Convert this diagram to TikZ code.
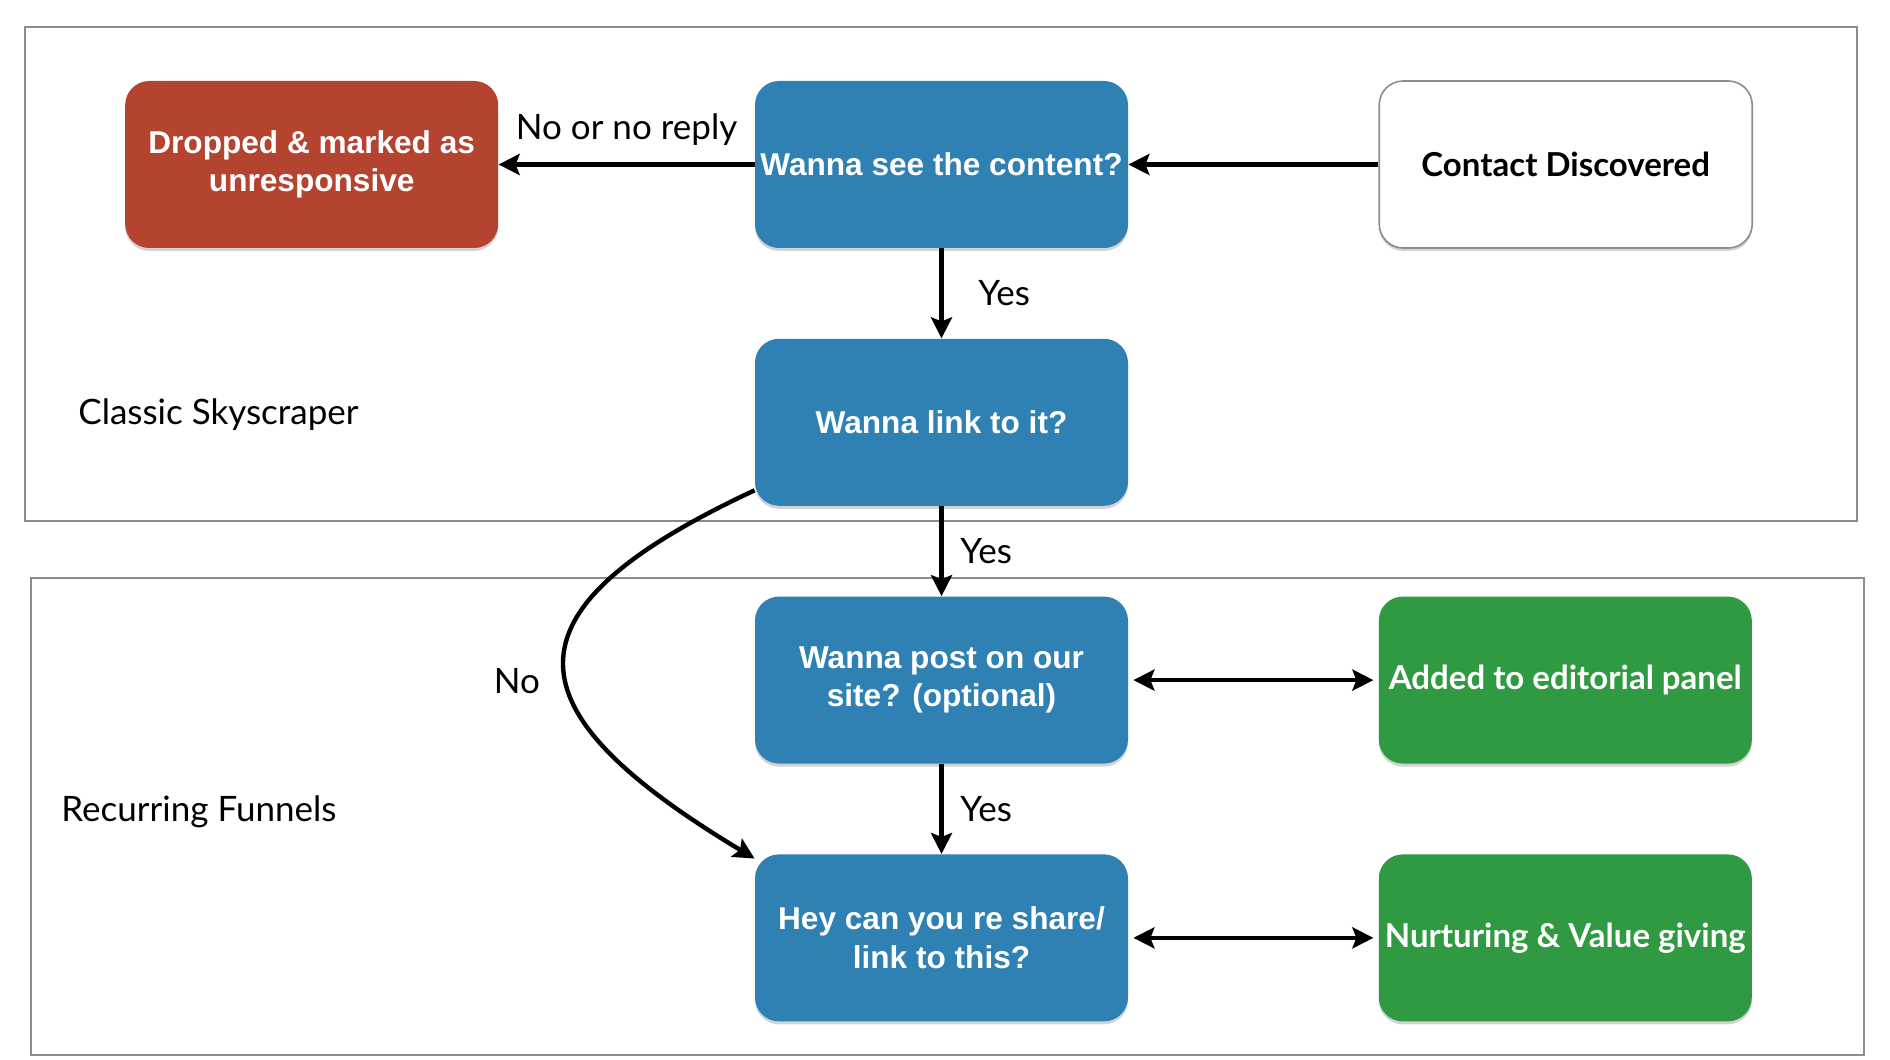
\documentclass[tikz,border=0pt]{standalone}
\usepackage{fontspec}
\setmainfont{Lato}
\newfontfamily\arialfont{Liberation Sans}
\usetikzlibrary{positioning,arrows.meta,shadows}

\definecolor{askblue}{HTML}{2F80B3}
\definecolor{dropred}{HTML}{B4432F}
\definecolor{okgreen}{HTML}{2F9A41}
\definecolor{framegray}{HTML}{8A8C8E}

\begin{document}
\begin{tikzpicture}[
    x=0.5pt,y=0.5pt,
    >={Stealth[length=10.5pt,width=10.5pt,inset=2pt]},
    every node/.style={font=\fontsize{17.5}{21}\selectfont},
    box/.style={rounded corners=12pt,minimum width=186.5pt,minimum height=83.5pt,align=center,inner sep=2pt,
        drop shadow={shadow xshift=0pt,shadow yshift=-1.5pt,opacity=.35}},
    ask/.style={box,fill=askblue,text=white,font=\arialfont\bfseries\fontsize{15.8}{19.3}\selectfont},
    drop/.style={box,fill=dropred,text=white,font=\arialfont\bfseries\fontsize{15.8}{19.3}\selectfont},
    start/.style={box,draw=framegray,line width=0.8pt,fill=white,font=\bfseries\fontsize{16.5}{20}\selectfont},
    result/.style={box,fill=okgreen,text=white,font=\bfseries\fontsize{16.5}{20}\selectfont},
    frame/.style={draw=framegray,line width=1pt},
    link/.style={->,line width=2.2pt}
]
\useasboundingbox (0,0) rectangle (1890,1060);

% Frames
\draw[frame] (25,1033) rectangle (1857,539);
\draw[frame] (31,482) rectangle (1864,5);
\node[anchor=west,inner sep=0] (classic) at (78,645) {Classic Skyscraper};
\node[anchor=west,inner sep=0] (funnels) at (61,248) {Recurring Funnels};

% First question
\node[ask] (see) at (941.5,895.5) {Wanna see the content?};
\node[drop,left=128pt of see] (drop) {Dropped \& marked as\\unresponsive};
\node[start,right=125pt of see] (contact) {Contact Discovered};
\draw[link] (contact) -- (see);
\draw[link] (see) -- node[above=5pt]{No or no reply} (drop);

% Down the column
\node[ask,below=45pt of see] (ask2) {Wanna link to it?};
\draw[link] (see) -- node[right=14pt]{Yes} (ask2);

\node[ask,below=45pt of ask2] (post) {Wanna post on our\\site? (optional)};
\draw[link] (ask2) -- node[right=5pt]{Yes} (post);

\node[ask,below=45pt of post] (hey) {Hey can you re share/\\link to this?};
\draw[link] (post) -- node[right=5pt]{Yes} (hey);

\draw[link] (ask2.200) to[out=205,in=149,looseness=2] node[left=8pt,yshift=-8.5pt]{No} (hey.157);

% Outcomes
\node[result,right=125pt of post] (panel) {Added to editorial panel};
\node[result,right=125pt of hey] (nurture) {Nurturing \& Value giving};
\draw[link,<->,shorten <=2.5pt,shorten >=2.5pt] (post) -- (panel);
\draw[link,<->,shorten <=2.5pt,shorten >=2.5pt] (hey) -- (nurture);

\end{tikzpicture}
\end{document}
